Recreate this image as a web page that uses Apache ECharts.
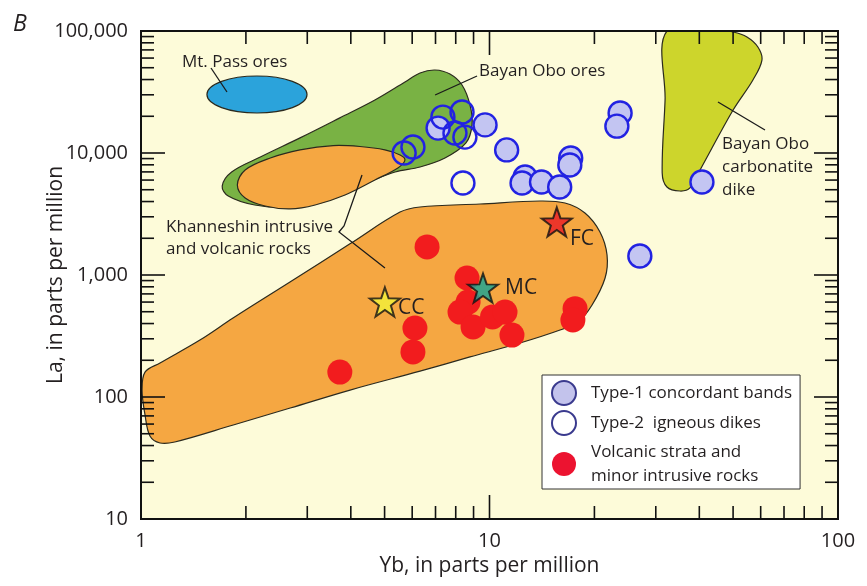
<!DOCTYPE html>
<html><head><meta charset="utf-8">
<script src="https://cdn.jsdelivr.net/npm/echarts@6/dist/echarts.min.js"></script>
<style>html,body{margin:0;padding:0;background:#fff}#c{width:867px;height:586px}</style>
</head><body><div id="c"></div>
<script>
// ---------------- data ----------------
const xMajorTicks = [1, 10, 100];
const xMinorTicks = [2,3,4,5,6,7,8,9,20,30,40,50,60,70,80,90];
const yMajorTicks = [10, 100, 1000, 10000, 100000];
const yMinorTicks = [20,30,40,50,60,70,80,90,200,300,400,500,600,700,800,900,
  2000,3000,4000,5000,6000,7000,8000,9000,20000,30000,40000,50000,60000,70000,80000,90000];
const yTickLabels = ['10', '100', '1,000', '10,000', '100,000'];
const xTickLabels = ['1', '10', '100'];

// [Yb, La] in ppm
const type1Bands = [[7.12,16000],[9.71,17000],[11.2,10600],[12.65,6350],[12.4,5680],[14.1,5780],
  [15.9,5260],[17.1,9100],[17.0,7980],[23.7,21300],[23.2,16600],[40.7,5780],[27.0,1430]];
const type2Dikes = [[5.69,10000],[6.03,11200],[7.35,19700],[8.34,21700],[7.96,14600],[8.5,13500],[8.39,5680]];
const volcanicStrata = [[6.62,1700],[8.62,945],[8.68,600],[8.23,497],[8.97,375],[10.2,453],[11.08,497],[11.6,322],
  [6.11,368],[6.03,234],[3.72,160],[17.6,530],[17.35,428]];
const crustStars = [[5.01,601,'CC'],[9.58,782,'MC'],[15.6,2720,'FC']];

// field outlines [Yb, La]
const bayanOboOres = [[1.71,5360],[1.82,6990],[2.2,9270],[2.86,13300],[3.72,19400],[4.69,27200],[5.72,38200],
  [6.32,45300],[6.98,47900],[7.7,44400],[8.34,36100],[8.79,24800],[8.91,17000],[8.56,12100],[7.45,9100],
  [6.32,7680],[5.36,6990],[4.25,5470],[3.26,4280],[2.68,3610],[2.12,3750],[1.78,4440]];
const khanneshinUpper = [[1.89,5470],[1.99,7260],[2.35,9100],[2.86,10600],[3.56,11500],[4.25,11300],[5.01,10600],
  [5.54,9630],[5.72,8760],[5.46,7540],[4.69,6010],[3.85,4530],[3.16,3750],[2.68,3480],[2.27,3680],[1.99,4280]];
const khanneshinLower = [[1.027,160],[1.134,190],[1.476,293],[1.837,444],[2.676,876],[3.978,1800],[5.537,3280],
  [6.318,3610],[9.39,3820],[13.96,4040],[16.47,3890],[18.79,3220],[20.75,2250],[21.74,1460],[21.46,945],
  [19.69,568],[17.95,412],[15.94,354],[12.23,277],[8.79,213],[6.32,163],[3.98,114],[2.68,81.2],[1.84,59],
  [1.25,42.8],[1.134,42],[1.061,47.9],[1.027,71.2],[1.007,114]];
const carbonatiteDike = [[32.3,100000],[31.9,27200],[31.3,6860],[32.3,5260],[35.2,4880],[37.6,5170],[40.2,7260],
  [50,22500],[57,39700],[60.5,57800],[58.9,73900],[54.8,89300],[50,98100],[46,100000]];
const mtPassOres = [[1.546,21280],[2.995,42760]]; // bounding box of the ellipse

const mtPassLeader = [[1.588,49740],[1.765,31620]];
const bayanOboLeader = [[9.21,42770],[6.98,29880]];
const khanneshinLeader = [[4.307,6600],[3.824,2521],[3.699,2251],[5.013,1141]];
const dikeLeader = [[45.25,26180],[61.73,15440]];

// ---------------- chart ----------------
const FONT = '"Open Sans", "Noto Sans", sans-serif';
const INK = '#231f20';

const regions = [
  {pts: bayanOboOres, fill: '#79b244'},
  {pts: khanneshinUpper, fill: '#f5a742'},
  {pts: khanneshinLower, fill: '#f5a742'},
  {pts: carbonatiteDike, fill: '#cdd52c'},
  {ellipse: mtPassOres, fill: '#2ba3db'}
];
const leaders = [mtPassLeader, bayanOboLeader, khanneshinLeader, dikeLeader];
const annotations = [
  {text: 'Mt. Pass ores', at: [1.311, 55700], size: 17, lh: 22},
  {text: 'Bayan Obo ores', at: [9.33, 47000], size: 17, lh: 22},
  {text: 'Khanneshin intrusive\nand volcanic rocks', at: [1.18, 2011], size: 17, lh: 22},
  {text: 'Bayan Obo\ncarbonatite\ndike', at: [46.5, 7680], size: 17, lh: 23},
  {text: 'CC', at: [5.46, 536], size: 21, lh: 22},
  {text: 'MC', at: [11.08, 782], size: 21, lh: 22},
  {text: 'FC', at: [17.02, 1973], size: 21, lh: 22}
];

const tickData = [];
xMajorTicks.forEach(v => tickData.push([v, 10, 1]));
xMinorTicks.forEach(v => tickData.push([v, 10, 0]));
yMajorTicks.forEach(v => tickData.push([1, v, 3]));
yMinorTicks.forEach(v => tickData.push([1, v, 2]));

const starPath = 'path://M50,0L61.76,33.82L97.55,34.55L69.02,56.18L79.39,90.45L50,70L20.61,90.45L30.98,56.18L2.45,34.55L38.24,33.82Z';
const starColors = {CC: '#f2f23a', MC: '#14a596', FC: '#ea1c24'};

const N1 = 'Type-1 concordant bands';
const N2 = 'Type-2  igneous dikes';
const N3 = 'Volcanic strata and\nminor intrusive rocks';

const chart = echarts.init(document.getElementById('c'), null, {renderer: 'canvas'});
const axisCommon = {
  type: 'log', logBase: 10, z: 5,
  axisLine: {show: true, lineStyle: {color: '#111', width: 2}},
  axisTick: {show: false}, splitLine: {show: false}, minorTick: {show: false}
};
chart.setOption({
  animation: false,
  title: {text: 'B', left: 8, top: 8, textStyle: {fontFamily: FONT, fontStyle: 'italic', fontWeight: 'normal', fontSize: 23, color: INK}},
  grid: {left: 141, right: 29, top: 31, bottom: 67, show: true, backgroundColor: '#fdfbd9', borderColor: '#111', borderWidth: 2},
  xAxis: [
    Object.assign({}, axisCommon, {min: 1, max: 100, position: 'bottom',
      name: 'Yb, in parts per million', nameLocation: 'middle', nameGap: 37,
      nameTextStyle: {fontFamily: FONT, fontSize: 21, color: INK},
      axisLabel: {fontFamily: FONT, fontSize: 20, color: INK, margin: 12,
        formatter: v => xTickLabels[Math.round(Math.log10(v))]}}),
    Object.assign({}, axisCommon, {min: 1, max: 100, position: 'top', axisLabel: {show: false}})
  ],
  yAxis: [
    Object.assign({}, axisCommon, {min: 10, max: 100000, position: 'left',
      name: 'La, in parts per million', nameLocation: 'middle', nameGap: 74, nameMoveOverlap: false,
      nameTextStyle: {fontFamily: FONT, fontSize: 21, color: INK},
      axisLabel: {fontFamily: FONT, fontSize: 20, color: INK, margin: 13,
        formatter: v => yTickLabels[Math.round(Math.log10(v)) - 1]}}),
    Object.assign({}, axisCommon, {min: 10, max: 100000, position: 'right', axisLabel: {show: false}})
  ],
  legend: {
    data: [
      {name: N1, itemStyle: {color: '#c3c3ec', borderColor: '#3a3a8e', borderWidth: 2}},
      {name: N2, itemStyle: {color: '#ffffff', borderColor: '#3a3a8e', borderWidth: 2}},
      {name: N3, itemStyle: {color: '#ec1330', borderWidth: 0}}
    ],
    orient: 'vertical', left: 542, top: 375,
    itemWidth: 24, itemHeight: 24, itemGap: 4,
    padding: [5, 8, 1, 9],
    backgroundColor: '#ffffff', borderColor: '#333', borderWidth: 1,
    selectedMode: false,
    textStyle: {fontFamily: FONT, fontSize: 17, lineHeight: 24, color: INK, padding: [0, 0, 0, 10]}
  },
  series: [
    {
      type: 'custom', name: 'fields', z: 1, clip: true, silent: true,
      data: regions.map(() => [1, 10]),
      renderItem: (params, api) => {
        const r = regions[params.dataIndex];
        const style = {fill: r.fill, stroke: '#2b2a1e', lineWidth: 1.2};
        if (r.ellipse) {
          const a = api.coord(r.ellipse[0]), b = api.coord(r.ellipse[1]);
          return {type: 'ellipse', shape: {cx: (a[0] + b[0]) / 2, cy: (a[1] + b[1]) / 2,
            rx: Math.abs(b[0] - a[0]) / 2, ry: Math.abs(b[1] - a[1]) / 2}, style};
        }
        return {type: 'polygon', shape: {points: r.pts.map(p => api.coord(p)), smooth: 0.35}, style};
      }
    },
    {
      type: 'custom', name: 'leaders', z: 2, silent: true,
      data: leaders.map(() => [1, 10]),
      renderItem: (params, api) => ({
        type: 'polyline', shape: {points: leaders[params.dataIndex].map(p => api.coord(p))},
        style: {stroke: '#1a1a1a', lineWidth: 1.3, fill: null}
      })
    },
    {
      type: 'custom', name: 'notes', z: 6, silent: true,
      data: annotations.map(() => [1, 10]),
      renderItem: (params, api) => {
        const a = annotations[params.dataIndex];
        const p = api.coord(a.at);
        return {type: 'text', x: p[0], y: p[1], style: {text: a.text, fill: INK,
          font: a.size + 'px ' + FONT, lineHeight: a.lh, align: 'left', verticalAlign: 'middle'}};
      }
    },
    {
      type: 'custom', name: 'ticks', z: 7, silent: true,
      data: tickData,
      renderItem: (params, api) => {
        const cs = params.coordSys;
        const kind = api.value(2);
        const len = (kind % 2) ? 24 : 13;
        const st = {stroke: '#111', lineWidth: 1.6};
        if (kind < 2) {
          const x = api.coord([api.value(0), 10])[0];
          const yb = cs.y + cs.height, yt = cs.y;
          return {type: 'group', children: [
            {type: 'line', shape: {x1: x, y1: yb, x2: x, y2: yb - len}, style: st},
            {type: 'line', shape: {x1: x, y1: yt, x2: x, y2: yt + len}, style: st}
          ]};
        }
        const y = api.coord([1, api.value(1)])[1];
        const xl = cs.x, xr = cs.x + cs.width;
        return {type: 'group', children: [
          {type: 'line', shape: {x1: xl, y1: y, x2: xl + len, y2: y}, style: st},
          {type: 'line', shape: {x1: xr, y1: y, x2: xr - len, y2: y}, style: st}
        ]};
      }
    },
    {
      type: 'scatter', name: N3, z: 3, data: volcanicStrata, symbol: 'circle', symbolSize: 25,
      itemStyle: {color: '#f21c1e', opacity: 1}
    },
    {
      type: 'scatter', name: 'stars', z: 4,
      data: crustStars.map(s => ({value: [s[0], s[1]], itemStyle: {color: starColors[s[2]]}})),
      symbol: starPath, symbolSize: [30, 29],
      itemStyle: {borderColor: '#111', borderWidth: 2}
    },
    {
      type: 'scatter', name: N1, z: 4, data: type1Bands, symbol: 'circle', symbolSize: 23,
      itemStyle: {color: '#c3c5f2', borderColor: '#2222e2', borderWidth: 2.4, opacity: 1}
    },
    {
      type: 'scatter', name: N2, z: 4, data: type2Dikes, symbol: 'circle', symbolSize: 23,
      itemStyle: {color: 'rgba(255,255,255,0)', borderColor: '#2222e2', borderWidth: 2.4, opacity: 1}
    }
  ]
});
</script>
</body></html>
